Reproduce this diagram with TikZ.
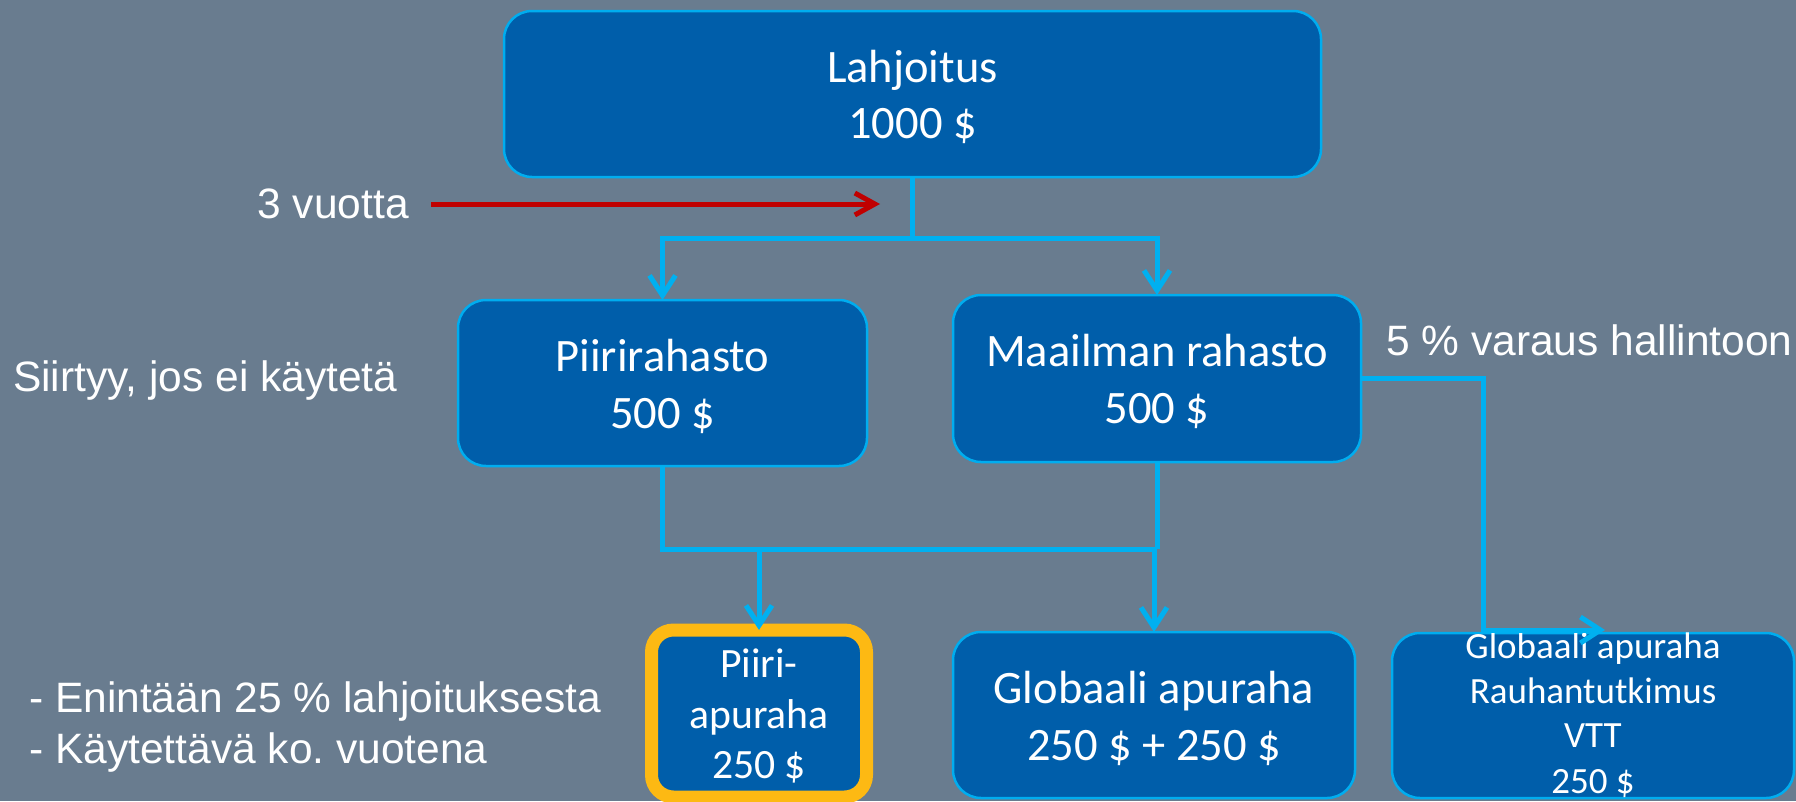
\documentclass[tikz,border=0pt]{standalone}
\usepackage{fontspec}
\setmainfont{Liberation Sans}
\newfontfamily\calib{Carlito}
\usetikzlibrary{arrows.meta}
\frenchspacing
\definecolor{bgcol}{HTML}{697C8F}
\definecolor{boxfill}{HTML}{005EAA}
\definecolor{boxline}{HTML}{00ADEF}
\definecolor{conncol}{HTML}{00B0F0}
\definecolor{redcol}{HTML}{C00000}
\definecolor{goldcol}{HTML}{FDB913}
\tikzset{
  box/.style={draw=boxline, line width=2.5pt, fill=boxfill, rounded corners=28pt, inner sep=0pt, outer sep=0pt},
  goldbox/.style={draw=goldcol, line width=13pt, fill=boxfill, rounded corners=22pt, inner sep=0pt, outer sep=0pt},
  btxt/.style={text=white, font=\calib\fontsize{46.5}{56}\selectfont, anchor=base, inner sep=0pt},
  stxt/.style={text=white, font=\calib\fontsize{41.7}{51}\selectfont, anchor=base, inner sep=0pt},
  rtxt/.style={text=white, font=\calib\fontsize{37}{45}\selectfont, anchor=base, inner sep=0pt},
  side/.style={text=white, font=\fontsize{42.5}{51}\selectfont, inner sep=0pt},
  conn/.style={draw=conncol, line width=5pt},
  arr/.style={conn, -{Straight Barb[length=20pt, width=26pt]}},
  redarr/.style={draw=redcol, line width=5pt, -{Straight Barb[length=20pt, width=22pt]}}
}
\begin{document}
\begin{tikzpicture}[x=1pt, y=-1pt]
\fill[bgcol] (0,0) rectangle (1796,801);
\useasboundingbox (0,0) rectangle (1796,801);

% boxes
\node[box, minimum width=817pt, minimum height=166pt] (don) at (912.5,94) {};
\node[box, minimum width=409pt, minimum height=166pt] (piiri) at (662.5,383) {};
\node[box, minimum width=408pt, minimum height=167pt] (maailma) at (1157,378.5) {};
\node[goldbox, minimum width=215pt, minimum height=167pt] (piiriap) at (759,713.5) {};
\node[box, minimum width=402pt, minimum height=166pt] (glob) at (1154,715) {};
\node[box, minimum width=402pt, minimum height=165pt] (globr) at (1593,715.5) {};

% box texts
\node[btxt] (t1a) at (912.5,82) {Lahjoitus};
\node[btxt] (t1b) at (912.5,138) {1000 \$};
\node[btxt] (t2a) at (662.5,371) {Piirirahasto};
\node[btxt] (t2b) at (662.5,428) {500 \$};
\node[btxt] (t3a) at (1157,366) {Maailman rahasto};
\node[btxt] (t3b) at (1157,423) {500 \$};
\node[stxt] (t4a) at (759,677) {Piiri-};
\node[stxt] (t4b) at (759,728) {apuraha};
\node[stxt] (t4c) at (759,778) {250 \$};
\node[btxt] (t5a) at (1154,703) {Globaali apuraha};
\node[btxt] (t5b) at (1154,760) {250 \$ + 250 \$};
\node[rtxt] (t6a) at (1593,658) {Globaali apuraha};
\node[rtxt] (t6b) at (1593,703) {Rauhantutkimus};
\node[rtxt] (t6c) at (1593,747) {VTT};
\node[rtxt] (t6d) at (1593,793) {250 \$};

% side labels
\node[side, anchor=base east] (vuo) at (409,218) {3 vuotta};
\node[side, anchor=base west] (siir) at (13,391) {Siirtyy, jos ei käytetä};
\node[side, anchor=base west] (vara) at (1386,355) {5 \% varaus hallintoon};
\node[side, anchor=base west] (eni) at (29,712) {- Enintään 25 \% lahjoituksesta};
\node[side, anchor=base west] (kay) at (29,763) {- Käytettävä ko. vuotena};

% connectors
\coordinate (j1) at (912.5,238);
\coordinate (j2) at (1157,549);
\coordinate (j3) at (1483,630);
\coordinate (tipr) at (1605,630);
\coordinate (r1) at (431,204);
\coordinate (r2) at (880,204);

\draw[conn] (don.south) -- (j1);
\draw[arr] (j1) -| (piiri.north);
\draw[arr] (j1) -| (maailma.north);
\draw[conn] (piiri.south) |- (j2);
\draw[conn] (maailma.south) -- (j2);
\draw[arr] (piiriap.north |- j2) -- (piiriap.north);
\draw[arr] (glob.north |- j2) -- (glob.north);
\draw[arr] (maailma.east) -| (j3) -- (tipr);
\draw[redarr] (r1) -- (r2);
\end{tikzpicture}
\end{document}
